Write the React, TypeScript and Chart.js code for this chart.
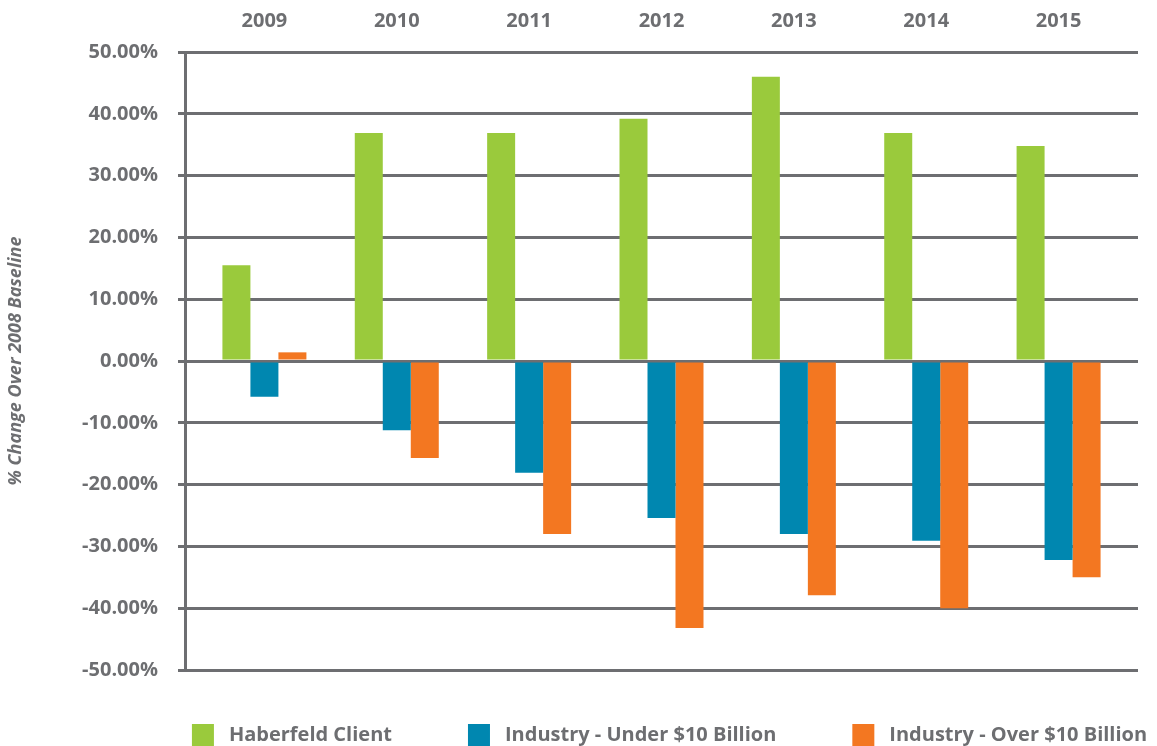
import React, { useEffect, useRef } from 'react';
import { Chart, registerables } from 'chart.js';

Chart.register(...registerables);

const years = ['2009', '2010', '2011', '2012', '2013', '2014', '2015'];
const haberfeldClient = [15.5, 36.9, 36.9, 39.2, 46.0, 36.9, 34.8];
const industryUnder10 = [-5.8, -11.2, -18.1, -25.4, -28.0, -29.1, -32.2];
const industryOver10 = [1.4, -15.7, -28.0, -43.2, -37.9, -40.0, -35.0];
const seriesNames = ['Haberfeld Client', 'Industry - Under $10 Billion', 'Industry - Over $10 Billion'];
const seriesColors = ['#9ACA3C', '#0087B0', '#F37721'];
const yAxisTitle = '% Change Over 2008 Baseline';

const GRAY = '#6D6E71';

const customLegend = {
  id: 'customLegend',
  afterDraw(chart: any) {
    const ctx = chart.ctx;
    const area = chart.chartArea;
    ctx.save();
    ctx.font = '700 20px "Open Sans"';
    const box = 22;
    const textGap = 15;
    const itemGap = 76;
    const items = chart.data.datasets.map((d: any) => ({
      label: d.label,
      color: d.backgroundColor,
      w: box + textGap + ctx.measureText(d.label).width,
    }));
    const total = items.reduce((s: number, it: any) => s + it.w, 0) + itemGap * (items.length - 1);
    let x = (area.left + area.right) / 2 + 8 - total / 2;
    const top = 724;
    ctx.textBaseline = 'middle';
    ctx.textAlign = 'left';
    for (const it of items) {
      ctx.fillStyle = it.color;
      ctx.fillRect(x, top, box, box);
      ctx.fillStyle = GRAY;
      ctx.fillText(it.label, x + box + textGap, top + box / 2);
      x += it.w + itemGap;
    }
    ctx.restore();
  },
};

export default function App() {
  const ref = useRef<HTMLCanvasElement | null>(null);

  useEffect(() => {
    if (!ref.current) return;
    const series = [haberfeldClient, industryUnder10, industryOver10];
    const chart = new Chart(ref.current, {
      type: 'bar',
      data: {
        datasets: series.map((vals, k) => ({
          label: seriesNames[k],
          data: vals.map((v, i) => ({ x: i, y: v })),
          backgroundColor: seriesColors[k],
          borderWidth: 0,
          barPercentage: 1,
          categoryPercentage: 0.6346,
        })),
      },
      options: {
        responsive: false,
        animation: false,
        layout: { padding: { left: 0, top: 0, right: 19, bottom: 76 } },
        plugins: {
          legend: { display: false },
          tooltip: { enabled: false },
        },
        scales: {
          x: {
            type: 'linear',
            position: 'top',
            offset: false,
            min: -0.6,
            max: 6.6,
            grid: { display: false, drawTicks: false, offset: false },
            border: { display: false },
            afterBuildTicks: (s: any) => {
              s.ticks = years.map((_, i) => ({ value: i }));
            },
            afterFit: (s: any) => {
              s.height = 52;
            },
            ticks: {
              autoSkip: false,
              maxRotation: 0,
              padding: 19,
              color: GRAY,
              font: { family: '"Open Sans"', size: 20, weight: '700' },
              callback: (v: any) => years[v] ?? '',
            },
          },
          y: {
            min: -50,
            max: 50,
            afterFit: (s: any) => {
              s.width = 185;
            },
            grid: { color: GRAY, lineWidth: 3, tickLength: 7, drawTicks: true },
            border: { display: true, color: GRAY, width: 3 },
            ticks: {
              stepSize: 10,
              padding: 20,
              color: GRAY,
              font: { family: '"Open Sans"', size: 20, weight: '700' },
              callback: (v: any) => Number(v).toFixed(2) + '%',
            },
            title: {
              display: true,
              text: yAxisTitle,
              color: GRAY,
              padding: 5,
              font: { family: '"Open Sans"', size: 18, weight: '700', style: 'italic' },
            },
          },
        },
      },
      plugins: [customLegend],
    });
    return () => chart.destroy();
  }, []);

  return (
    <div style={{ position: 'fixed', left: 0, top: 0, width: 1157, height: 746, background: '#fff' }}>
      <canvas ref={ref} width={1157} height={746} />
    </div>
  );
}
